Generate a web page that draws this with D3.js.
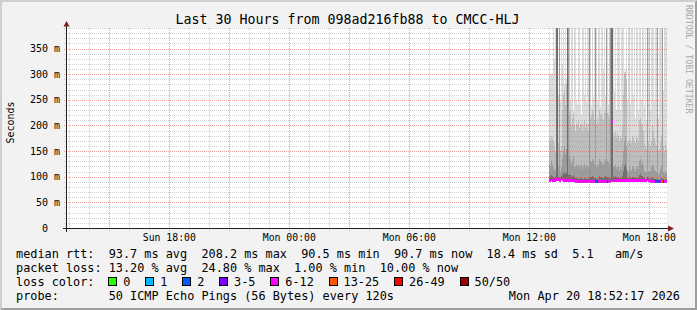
<!DOCTYPE html>
<html>
<head>
<meta charset="utf-8">
<script src="https://d3js.org/d3.v7.min.js"></script>
<style>
body { margin: 0; background: #f2f2f2; }
svg text { font-family: "DejaVu Sans Mono", monospace; white-space: pre; }
</style>
</head>
<body>
<svg id="chart" width="697" height="310"></svg>
<script>
// one column every 3 minutes, Mon 13:00 .. 18:51
var medianMs = [93,93,94,93,93,92,93,95,127,94,
  93,93,97,94,93,93,92,93,93,92,
  93,92,92,93,92,92,91,90,90,90,
  90,91,90,90,90,90,90,91,90,90,
  90,90,90,90,90,90,91,90,90,90,
  90,90,90,90,90,91,90,90,90,90,
  91,91,113,208,93,93,92,93,93,93,
  93,92,93,93,93,93,92,93,93,93,
  93,93,93,92,93,93,93,93,93,93,
  93,93,93,93,92,93,93,93,97,93,
  92,91,90,90,90,90,90,90,90,90,
  90,90,90,91,90,90,90,91];
var lowMs = [90,90,91,90,90,89,90,92,92,91,
  90,90,93,91,90,90,89,90,90,89,
  90,89,89,90,89,89,88,87,87,87,
  87,88,87,87,87,87,87,88,87,87,
  87,87,87,87,87,87,88,87,87,87,
  87,87,87,87,87,88,87,87,87,87,
  88,88,89,89,90,90,89,90,90,90,
  90,89,90,90,90,90,89,90,90,90,
  90,90,90,89,90,90,90,90,90,90,
  90,90,90,90,89,90,90,90,91,90,
  89,88,87,87,87,87,87,87,87,87,
  87,87,87,88,87,87,87,88];
var darkTop = [102,100,104,101,99,98,99,400,400,100,
  100,97,101,104,108,110,105,108,400,104,
  105,103,100,102,104,99,98,97,96,98,
  96,97,98,95,96,98,96,97,96,95,
  100,100,99,102,100,98,98,96,98,96,
  102,100,99,98,97,100,102,100,100,99,
  98,99,400,400,100,99,101,98,99,100,
  98,99,98,102,112,120,125,115,98,97,
  99,98,97,100,99,98,97,99,98,97,
  103,105,101,102,99,97,96,96,99,97,
  95,96,98,100,98,96,95,95,96,94,
  94,96,98,97,95,94,96,95];
var midTop = [125,120,130,125,118,115,112,400,400,120,
  400,110,118,135,150,160,145,155,400,400,
  140,135,125,130,140,120,118,122,120,125,
  118,120,125,115,120,125,118,122,120,115,
  400,130,128,135,130,125,400,118,125,120,
  135,130,128,125,122,130,135,400,130,128,
  125,400,400,400,120,118,122,115,118,120,
  112,118,115,125,150,170,180,160,112,110,
  118,115,112,120,118,115,112,120,118,115,
  130,135,125,128,120,112,110,108,400,112,
  108,112,118,125,120,115,112,110,400,105,
  108,115,120,400,110,105,112,108];
var lightTop = [175,170,180,175,170,160,150,400,400,165,
  400,150,160,230,260,270,240,280,400,400,
  220,230,200,215,225,200,190,205,200,210,
  195,200,205,190,200,210,195,205,200,190,
  400,215,220,230,225,210,400,200,215,205,
  230,220,225,215,210,225,230,400,225,220,
  215,400,400,400,185,180,190,175,185,180,
  170,180,175,200,260,300,305,290,170,165,
  175,170,165,180,175,170,165,180,175,170,
  210,215,205,200,190,165,160,155,400,165,
  150,160,170,200,190,175,165,160,400,150,
  155,170,180,400,160,150,165,155];
var maxMs = [300,298,302,300,400,330,400,400,400,260,
  400,245,400,320,400,280,400,290,400,400,
  400,250,400,400,230,400,400,250,240,400,
  400,240,220,400,400,260,400,245,400,400,
  400,400,240,400,255,400,400,400,250,400,
  400,235,400,400,310,400,260,400,400,240,
  400,400,400,400,400,265,400,230,400,400,
  400,230,400,400,400,305,310,400,250,400,
  400,240,400,400,260,400,215,400,400,230,
  400,400,250,400,400,235,400,210,400,400,
  400,230,400,400,400,250,400,400,400,215,
  400,400,400,400,270,400,400,400];
var lossPings = [7,7,8,7,6,7,8,9,10,7,
  9,7,6,7,8,7,7,6,9,9,
  7,7,6,7,8,7,6,7,7,6,
  7,6,7,7,6,7,7,6,7,7,
  9,7,6,7,7,6,3,2,4,6,
  7,7,6,7,7,6,7,9,5,7,
  7,10,11,12,7,6,7,6,7,7,
  6,7,7,6,7,8,8,7,6,6,
  7,6,6,7,7,6,6,7,6,7,
  7,7,6,7,7,6,6,6,9,6,
  6,7,6,7,6,7,4,2,2,4,
  2,4,14,15,4,7,8,7];

var yTicks = [0, 50, 100, 150, 200, 250, 300, 350];
var lossLabels = ["0", "1", "2", "3-5", "6-12", "13-25", "26-49", "50/50"];
var lossUpper = [0, 1, 2, 5, 12, 25, 49, 50];
var lossColors = ["#26ff00", "#00b8ff", "#0059ff", "#7e00ff", "#ff00ff", "#ff5500", "#ff0000", "#a10000"];
var legendRows = [
  "median rtt:  93.7 ms avg  208.2 ms max  90.5 ms min  90.7 ms now  18.4 ms sd  5.1   am/s",
  "packet loss: 13.20 % avg  24.80 % max  1.00 % min  10.00 % now",
  "loss color:",
  "probe:       50 ICMP Echo Pings (56 Bytes) every 120s"
];
var titleText = "Last 30 Hours from 098ad216fb88 to CMCC-HLJ";
var stampText = "Mon Apr 20 18:52:17 2026";
var watermark = "RRDTOOL / TOBI OETIKER";

var W = 697, H = 310;
var pLeft = 67, pRight = 667, pTop = 28, pBottom = 228;
var stepMs = 3 * 60 * 1000;
var t0 = new Date(2026, 3, 19, 12, 53), t1 = new Date(2026, 3, 20, 18, 53);
var firstSample = new Date(2026, 3, 20, 13, 0);

var x = d3.scaleTime().domain([t0, t1]).range([pLeft, pRight]);
var y = d3.scaleLinear().domain([0, 390]).range([pBottom, pTop]);

function lossColor(n) {
  for (var k = 0; k < lossUpper.length; k++) if (n <= lossUpper[k]) return lossColors[k];
  return lossColors[lossColors.length - 1];
}

var cols = medianMs.map(function(m, i) {
  var t = new Date(+firstSample + i * stepMs);
  return {t: t, med: m, low: lowMs[i], q1: darkTop[i], q2: midTop[i], q3: lightTop[i], hi: maxMs[i], loss: lossPings[i]};
});
function cx(d) { return Math.round(x(d.t)); }
function cw(d) { return Math.round(x(new Date(+d.t + stepMs))) - Math.round(x(d.t)); }

var svg = d3.select("#chart");

// background and 3d frame
svg.append("rect").attr("width", W).attr("height", H).attr("fill", "#f2f2f2");
svg.append("path").attr("d", "M0,0L697,0L695,2L2,2L2,308L0,310Z").attr("fill", "#cfcfcf");
svg.append("path").attr("d", "M697,0L697,310L0,310L2,308L695,308L695,2Z").attr("fill", "#9e9e9e");

svg.append("defs").append("clipPath").attr("id", "clip")
  .append("rect").attr("x", pLeft).attr("y", pTop).attr("width", pRight - pLeft).attr("height", pBottom - pTop);
svg.append("rect").attr("x", pLeft).attr("y", pTop).attr("width", pRight - pLeft).attr("height", pBottom - pTop).attr("fill", "#fff");

// smoke
var g = svg.append("g").attr("clip-path", "url(#clip)").attr("shape-rendering", "crispEdges");
var bands = [["low", "q1", "#6e6e6e"], ["q1", "q2", "#9c9c9c"], ["q2", "q3", "#bdbdbd"], ["q3", "hi", "#dcdcdc"]];
bands.forEach(function(b) {
  g.selectAll(null)
    .data(cols.filter(function(d) { return d[b[1]] > d[b[0]]; }))
    .enter().append("rect")
    .attr("x", cx).attr("width", cw)
    .attr("y", function(d) { return y(d[b[1]]); })
    .attr("height", function(d) { return y(d[b[0]]) - y(d[b[1]]); })
    .attr("fill", b[2]);
});

// median, coloured by loss
g.selectAll(null).data(cols).enter().append("rect")
  .attr("x", cx).attr("width", cw)
  .attr("y", function(d) { return y(d.med + 2.9); })
  .attr("height", function(d) { return y(d.med - 2.9) - y(d.med + 2.9); })
  .attr("fill", function(d) { return lossColor(d.loss); });

// grid on top of data
var grid = svg.append("g").attr("shape-rendering", "crispEdges").attr("stroke-dasharray", "1,1");
var minorY = d3.range(10, 391, 10).filter(function(v) { return v % 50; });
grid.selectAll(null).data(minorY).enter().append("line")
  .attr("x1", pLeft - 3).attr("x2", pRight + 1)
  .attr("y1", function(v) { return Math.round(y(v)) + 0.5; })
  .attr("y2", function(v) { return Math.round(y(v)) + 0.5; })
  .attr("stroke", "#8f8f8f").attr("stroke-opacity", 0.42);
var hours = x.ticks(d3.timeHour.every(1));
grid.selectAll(null).data(hours.filter(function(t) { return t.getHours() % 3; })).enter().append("line")
  .attr("x1", function(t) { return Math.round(x(t)) + 0.5; })
  .attr("x2", function(t) { return Math.round(x(t)) + 0.5; })
  .attr("y1", pTop).attr("y2", pBottom + 3)
  .attr("stroke", "#8f8f8f").attr("stroke-opacity", 0.42);
grid.selectAll(null).data(yTicks.slice(1)).enter().append("line")
  .attr("x1", pLeft - 3).attr("x2", pRight + 1)
  .attr("y1", function(v) { return Math.round(y(v)) + 0.5; })
  .attr("y2", function(v) { return Math.round(y(v)) + 0.5; })
  .attr("stroke", "#de4f4f").attr("stroke-opacity", 0.55);
grid.selectAll(null).data(hours.filter(function(t) { return t.getHours() % 3 === 0; })).enter().append("line")
  .attr("x1", function(t) { return Math.round(x(t)) + 0.5; })
  .attr("x2", function(t) { return Math.round(x(t)) + 0.5; })
  .attr("y1", pTop).attr("y2", pBottom + 3)
  .attr("stroke", "#de4f4f").attr("stroke-opacity", 0.55);

// axes with arrows
var ax = svg.append("g").attr("shape-rendering", "crispEdges");
ax.append("line").attr("x1", pLeft - 4).attr("x2", pRight + 2)
  .attr("y1", pBottom + 0.5).attr("y2", pBottom + 0.5).attr("stroke", "#1f1f1f");
ax.append("line").attr("x1", pLeft - 0.5).attr("x2", pLeft - 0.5)
  .attr("y1", pBottom + 4).attr("y2", pTop - 4).attr("stroke", "#1f1f1f");
svg.append("path").attr("d", "M668,225.5L674,228.5L668,231.5Z").attr("fill", "#801f1f");
svg.append("path").attr("d", "M63.5,26.5L66.5,21L69.5,26.5Z").attr("fill", "#801f1f");

// labels
svg.append("g").selectAll(null).data(yTicks).enter().append("text")
  .attr("x", function(v) { return v === 0 ? 48 : 60; })
  .attr("y", function(v) { return y(v) + 3.6; })
  .attr("text-anchor", "end").attr("font-size", "10px")
  .text(function(v) { return v === 0 ? "0" : v + " m"; });

var fmt = d3.timeFormat("%a %H:%M");
svg.append("g").selectAll(null).data(x.ticks(d3.timeHour.every(6))).enter().append("text")
  .attr("x", function(t) { return x(t); })
  .attr("y", 241)
  .attr("text-anchor", "middle").attr("font-size", "9.8px")
  .text(fmt);

svg.append("text").attr("x", 347.5).attr("y", 24).attr("text-anchor", "middle")
  .attr("font-size", "13.3px").text(titleText);

svg.append("text").attr("transform", "translate(14,122.5) rotate(-90)")
  .attr("text-anchor", "middle").attr("font-size", "10px").text("Seconds");

svg.append("text").attr("transform", "translate(685.5,5) rotate(90)")
  .attr("font-size", "8.2px").attr("fill", "#a8a8a8").text(watermark);

// legend
var rowY = [257.5, 271.7, 285.8, 300];
svg.append("g").selectAll(null).data(legendRows).enter().append("text")
  .attr("xml:space", "preserve")
  .attr("x", 16).attr("y", function(d, i) { return rowY[i]; })
  .attr("font-size", "11.85px").text(function(d) { return d; });
svg.append("text").attr("x", 680).attr("y", rowY[3]).attr("text-anchor", "end")
  .attr("font-size", "11.85px").text(stampText);

var charW = 7.13, bx = 108.3, boxes = [];
lossLabels.forEach(function(l, i) {
  boxes.push({x: bx, label: l, color: lossColors[i]});
  bx = bx + 15 + l.length * charW + 14.8;
});
var lg = svg.append("g");
lg.selectAll(null).data(boxes).enter().append("rect")
  .attr("x", function(d) { return Math.round(d.x) + 0.5; }).attr("y", 277.5)
  .attr("width", 8).attr("height", 8)
  .attr("fill", function(d) { return d.color; })
  .attr("stroke", "#000").attr("shape-rendering", "crispEdges");
lg.selectAll(null).data(boxes).enter().append("text")
  .attr("x", function(d) { return d.x + 15; }).attr("y", rowY[2])
  .attr("font-size", "11.85px").text(function(d) { return d.label; });
</script>
</body>
</html>
